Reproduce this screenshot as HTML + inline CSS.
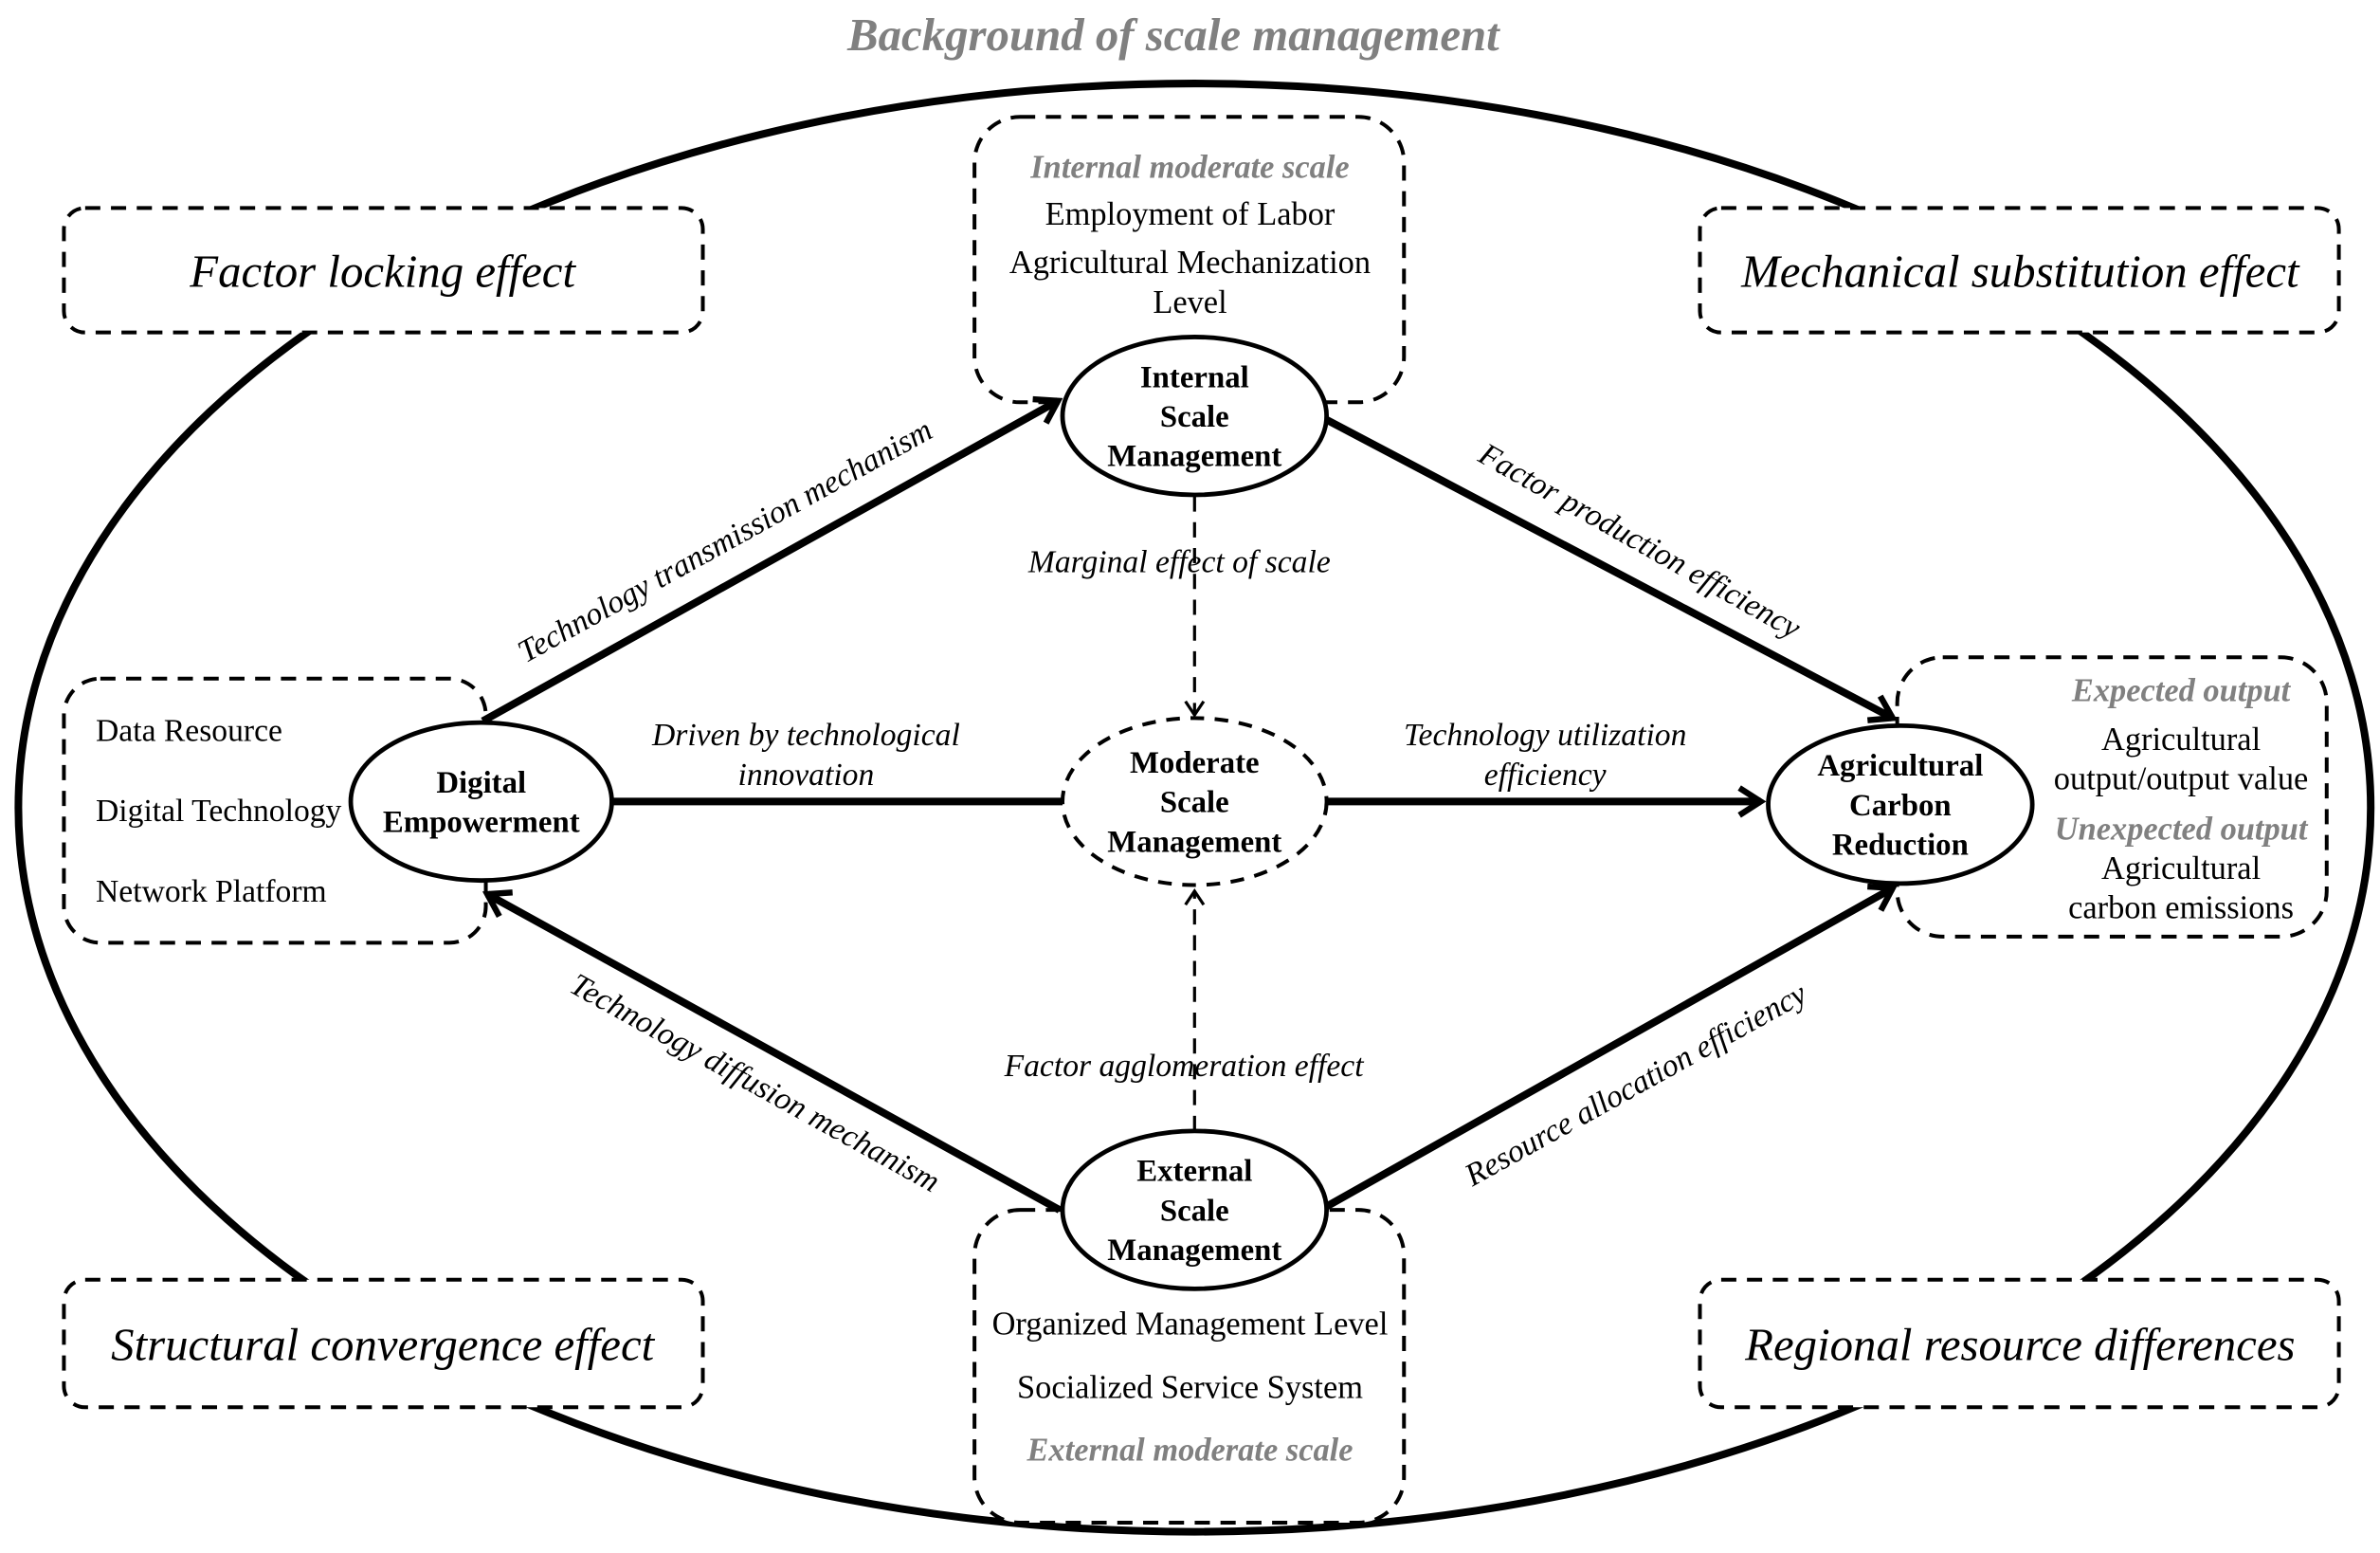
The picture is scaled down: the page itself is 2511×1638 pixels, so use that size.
<!DOCTYPE html>
<html><head><meta charset="utf-8"><style>html,body{margin:0;padding:0;background:#fff}svg{display:block}</style></head>
<body>
<svg width="2511" height="1638" viewBox="0 0 1568 1023" xmlns="http://www.w3.org/2000/svg" font-family="'Liberation Serif', serif">
<defs>
<marker id="ah" markerWidth="22" markerHeight="22" refX="17" refY="11" orient="auto" markerUnits="userSpaceOnUse">
<path d="M3,2 L17,11 L3,20" fill="none" stroke="#000" stroke-width="4" stroke-linejoin="miter"/>
</marker>
<marker id="ah2" markerWidth="14" markerHeight="14" refX="11" refY="7" orient="auto" markerUnits="userSpaceOnUse">
<path d="M2,1 L11,7 L2,13" fill="none" stroke="#000" stroke-width="2"/>
</marker>
</defs>
<rect width="1568" height="1023" fill="#fff"/>
<text x="773" y="33" text-anchor="middle" font-size="30.5" font-style="italic" font-weight="bold" fill="#808080">Background of scale management</text>
<ellipse cx="787" cy="532" rx="775" ry="477" fill="none" stroke="#000" stroke-width="5"/>

<g fill="#fff" stroke="#000" stroke-width="2.5" stroke-dasharray="10,7">
<rect x="42" y="137" width="421" height="82" rx="14"/>
<rect x="1120" y="137" width="421" height="82" rx="14"/>
<rect x="42" y="843" width="421" height="84" rx="14"/>
<rect x="1120" y="843" width="421" height="84" rx="14"/>
<rect x="642" y="77" width="283" height="188" rx="30"/>
<rect x="642" y="797" width="283" height="206" rx="30"/>
<rect x="42" y="447" width="278" height="174" rx="24"/>
<rect x="1250" y="433" width="283" height="184" rx="30"/>
</g>
<g font-size="30.5" font-style="italic" text-anchor="middle">
<text x="252" y="189">Factor locking effect</text>
<text x="1331" y="189">Mechanical substitution effect</text>
<text x="252" y="896">Structural convergence effect</text>
<text x="1331" y="896">Regional resource differences</text>
</g>

<g font-size="21.5" text-anchor="middle">
<text x="784" y="117" fill="#808080" font-style="italic" font-weight="bold">Internal moderate scale</text>
<text x="784" y="148">Employment of Labor</text>
<text x="784" y="180">Agricultural Mechanization</text>
<text x="784" y="206">Level</text>
<text x="784" y="879">Organized Management Level</text>
<text x="784" y="921">Socialized Service System</text>
<text x="784" y="962" fill="#808080" font-style="italic" font-weight="bold">External moderate scale</text>
<text x="1437" y="462" fill="#808080" font-style="italic" font-weight="bold">Expected output</text>
<text x="1437" y="494">Agricultural</text>
<text x="1437" y="520">output/output value</text>
<text x="1437" y="553" fill="#808080" font-style="italic" font-weight="bold">Unexpected output</text>
<text x="1437" y="579">Agricultural</text>
<text x="1437" y="605">carbon emissions</text>
</g>
<g font-size="21">
<text x="63" y="488">Data Resource</text>
<text x="63" y="541">Digital Technology</text>
<text x="63" y="594">Network Platform</text>
</g>

<g stroke="#000" stroke-width="5" fill="none">
<line x1="318" y1="475" x2="697" y2="264" marker-end="url(#ah)"/>
<line x1="873" y1="276" x2="1247" y2="473" marker-end="url(#ah)"/>
<line x1="403" y1="528" x2="700" y2="528"/>
<line x1="873" y1="528" x2="1160" y2="528" marker-end="url(#ah)"/>
<line x1="698" y1="797" x2="321" y2="589" marker-end="url(#ah)"/>
<line x1="870" y1="797" x2="1247" y2="585" marker-end="url(#ah)"/>
</g>
<g stroke="#000" stroke-width="2" fill="none" stroke-dasharray="10,7">
<line x1="787" y1="327" x2="787" y2="471" marker-end="url(#ah2)"/>
<line x1="787" y1="745" x2="787" y2="587" marker-end="url(#ah2)"/>
</g>

<g fill="#fff" stroke="#000">
<ellipse cx="317" cy="528" rx="86" ry="52" stroke-width="3"/>
<ellipse cx="787" cy="274" rx="87" ry="52" stroke-width="3"/>
<ellipse cx="787" cy="528" rx="87" ry="55" stroke-width="2.5" stroke-dasharray="9,7"/>
<ellipse cx="787" cy="797" rx="87" ry="52" stroke-width="3"/>
<ellipse cx="1252" cy="530" rx="87" ry="52" stroke-width="3"/>
</g>
<g font-size="20.5" font-weight="bold" text-anchor="middle">
<text x="317" y="522">Digital</text>
<text x="317" y="548">Empowerment</text>
<text x="787" y="255">Internal</text>
<text x="787" y="281">Scale</text>
<text x="787" y="307">Management</text>
<text x="787" y="509">Moderate</text>
<text x="787" y="535">Scale</text>
<text x="787" y="561">Management</text>
<text x="787" y="778">External</text>
<text x="787" y="804">Scale</text>
<text x="787" y="830">Management</text>
<text x="1252" y="511">Agricultural</text>
<text x="1252" y="537">Carbon</text>
<text x="1252" y="563">Reduction</text>
</g>

<g font-size="21" font-style="italic" text-anchor="middle">
<text x="478" y="363" transform="rotate(-29 478 357)">Technology transmission mechanism</text>
<text x="1080" y="363" transform="rotate(29.5 1080 357)">Factor production efficiency</text>
<text x="497" y="720" transform="rotate(29 497 714)">Technology diffusion mechanism</text>
<text x="1078" y="721" transform="rotate(-29 1078 715)">Resource allocation efficiency</text>
<text x="777" y="377">Marginal effect  of scale</text>
<text x="780" y="709">Factor agglomeration effect</text>
<text x="531" y="491">Driven by technological</text>
<text x="531" y="517">innovation</text>
<text x="1018" y="491">Technology utilization</text>
<text x="1018" y="517">efficiency</text>
</g>
</svg>
</body></html>
